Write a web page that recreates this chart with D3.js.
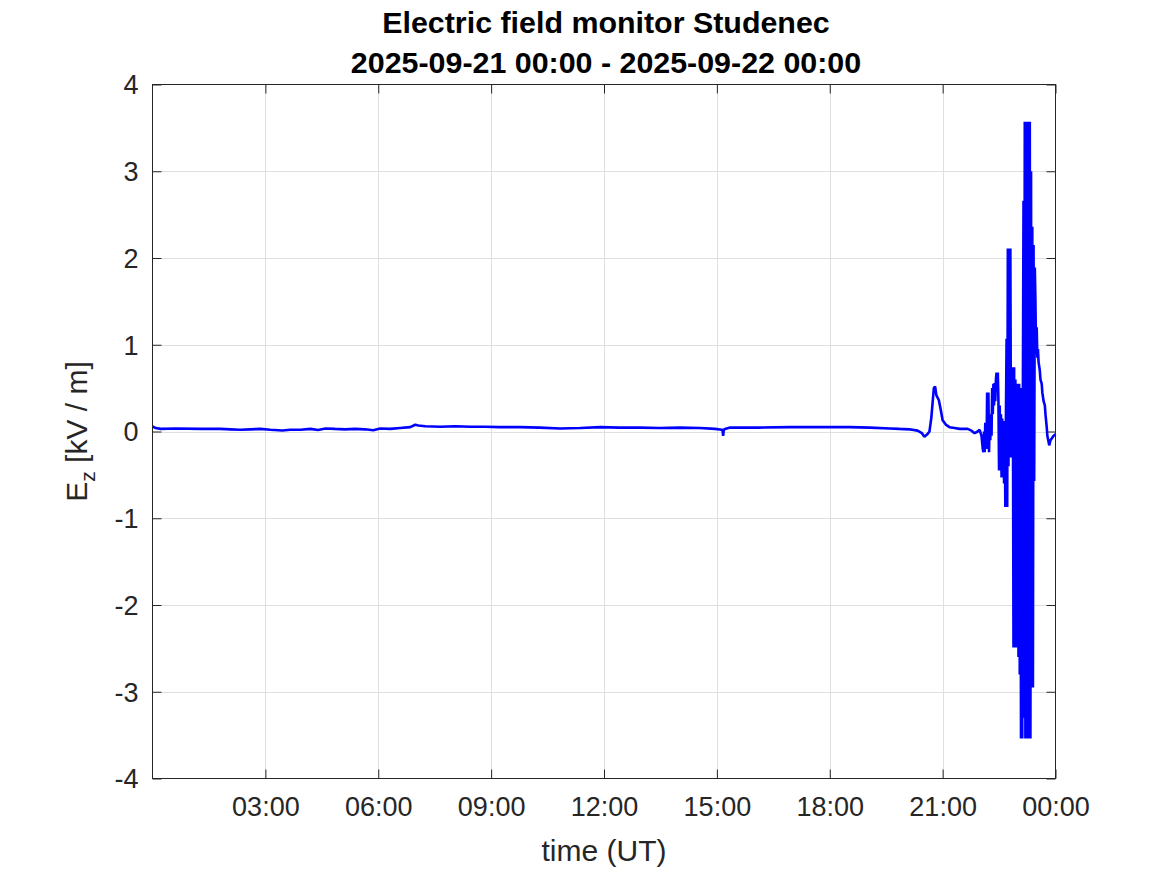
<!DOCTYPE html>
<html><head><meta charset="utf-8">
<script src="https://cdn.jsdelivr.net/npm/d3@7"></script>
<style>
body{margin:0;background:#fff}
text{font-family:"Liberation Sans",Arial,Helvetica,sans-serif;fill:#262626}
</style>
</head><body>
<svg id="chart" width="1167" height="875"></svg>
<script>
// ---- data ----
const titleLines = ["Electric field monitor Studenec", "2025-09-21 00:00 - 2025-09-22 00:00"];
const xLabel = "time (UT)";
const xTickMinutes = [180, 360, 540, 720, 900, 1080, 1260, 1440];
const xTickLabels = ["03:00", "06:00", "09:00", "12:00", "15:00", "18:00", "21:00", "00:00"];
const yTicks = [-4, -3, -2, -1, 0, 1, 2, 3, 4];
const yTickLabels = ["-4", "-3", "-2", "-1", "0", "1", "2", "3", "4"];

// minutes since 2025-09-21 00:00 UT
const minutes = [
  0,5,13,37,76,108,124,140,156,172,188,207,220,236,252,264,276,291,307,323,339,352,363,379,395,411,419,424,435,459,483,507,530,554,586,618,650,682,714,745,777,809,841,873,897,908,909,910,911,913,921,968,1016,1064,1112,1144,1176,1191,1207,1220,1227,1231,1236,1239,1242,1246,1248,1250,1254,1257,1260,1265,1271,1279,1287,1300,1306,1311,1316,1319,1322,
  1324,1325,1326,1327,1328,1329,1330,1331,1332,1333,1334,1335,1336,1337,1338,1339,1340,1341,1342,1343,1344,1345,1346,1347,1348,1349,1350,1351,1352,1353,1354,1355,1356,1357,1358,1359,
  1360,1361,1362,1363,1364,1365,1366,1367,1368,1369,1370,1371,1372,1373,1374,1375,1376,1377,1378,1379,1380,1381,1382,1383,1384,1385,1386,1387,1388,1389,
  1390,1391,1392,1393,1394,1395,1396,1397,1398,1399,1400,1401,1402,1403,1404,1405,1406,1407,1408,1409,1410,1411,1412,1413,1415,1416,1418,1419,1421,1423,1424,1426,1427,1429,1430,1432,1434,1437,1440
];
// vertical electric field E_z [kV/m]
const ez = [
  0.06,0.04,0.03,0.035,0.03,0.03,0.025,0.02,0.025,0.03,0.02,0.012,0.02,0.02,0.03,0.018,0.035,0.03,0.025,0.03,0.025,0.015,0.035,0.03,0.04,0.05,0.078,0.07,0.06,0.055,0.06,0.055,0.055,0.05,0.05,0.045,0.035,0.04,0.05,0.045,0.045,0.04,0.045,0.04,0.03,0.02,0.02,-0.05,0.02,0.03,0.045,0.045,0.05,0.05,0.05,0.045,0.035,0.03,0.025,0.01,-0.02,-0.06,-0.03,0.0,0.16,0.5,0.52,0.42,0.36,0.25,0.13,0.08,0.05,0.04,0.03,0.03,0.01,-0.02,0.0,0.02,-0.05,
  -0.2,-0.24,0.0,-0.24,0.1,-0.1,-0.2,0.45,-0.05,0.45,-0.24,0.2,-0.1,0.19,-0.05,0.5,0.2,0.55,0.3,0.56,0.35,0.6,0.68,0.55,0.68,0.35,-0.45,0.3,-0.2,0.2,-0.53,0.15,-0.4,0.1,-0.6,0.12,
  -0.87,0.2,1.07,-0.87,2.11,-0.4,2.11,0.1,2.11,-0.3,0.74,0.1,0.74,-2.49,0.74,-1.8,0.6,-2.49,0.1,-1.8,0.55,-2.6,0.55,-2.8,0.3,-3.54,0.5,-3.54,0.5,2.66,
  -3.3,3.57,-3.54,3.57,-3.54,3.57,-3.3,3.57,-3.54,3.57,-3.54,3.0,-2.95,2.36,-2.95,2.15,-0.57,1.89,1.5,0.9,1.2,0.85,0.95,0.8,0.7,0.6,0.55,0.45,0.35,0.3,0.2,0.05,-0.05,-0.12,-0.16,-0.1,-0.08,-0.05,-0.03
];

// ---- layout ----
const svg = d3.select("#chart");
const L = 152.5, R = 1055.5, T = 84.5, B = 778.5;
const x = d3.scaleLinear().domain([0, 1440]).range([L, R]);
const y = d3.scaleLinear().domain([-4, 4]).range([B, T]);
const axisColor = "#262626";
const gridColor = "#dfdfdf";
const tickLen = 9;

svg.append("rect").attr("width", 1167).attr("height", 875).attr("fill", "#fff");

// grid
const grid = svg.append("g");
grid.selectAll(".gx").data(xTickMinutes.filter(m => m < 1440)).enter().append("line")
  .attr("x1", d => Math.round(x(d)) + 0.5).attr("x2", d => Math.round(x(d)) + 0.5)
  .attr("y1", T).attr("y2", B).attr("stroke", gridColor).attr("stroke-width", 1);
grid.selectAll(".gy").data(yTicks.filter(v => v > -4 && v < 4)).enter().append("line")
  .attr("y1", d => Math.round(y(d)) + 0.5).attr("y2", d => Math.round(y(d)) + 0.5)
  .attr("x1", L).attr("x2", R).attr("stroke", gridColor).attr("stroke-width", 1);

// data line
const line = d3.line().x((d, i) => x(minutes[i])).y(d => y(d));
svg.append("path").attr("d", line(ez))
  .attr("fill", "none").attr("stroke", "#0000ff").attr("stroke-width", 2.6)
  .attr("stroke-linejoin", "bevel");

// axes via d3 axis generators (ticks inward)
const xb = d3.axisBottom(x).tickValues(xTickMinutes).tickSize(-tickLen).tickPadding(18)
  .tickFormat((d, i) => xTickLabels[i]);
const gxb = svg.append("g").attr("transform", `translate(0,${B})`).call(xb);
const xt = d3.axisTop(x).tickValues(xTickMinutes).tickSize(-tickLen).tickFormat("");
const gxt = svg.append("g").attr("transform", `translate(0,${T})`).call(xt);
const yl = d3.axisLeft(y).tickValues(yTicks).tickSize(-tickLen).tickPadding(14)
  .tickFormat((d, i) => yTickLabels[i]);
const gyl = svg.append("g").attr("transform", `translate(${L},0)`).call(yl);
const yr = d3.axisRight(y).tickValues(yTicks).tickSize(-tickLen).tickFormat("");
const gyr = svg.append("g").attr("transform", `translate(${R},0)`).call(yr);

[gxb, gxt, gyl, gyr].forEach(g => {
  g.select(".domain").remove();
  g.selectAll(".tick line").attr("stroke", axisColor).attr("stroke-width", 1);
  g.selectAll(".tick text").attr("fill", axisColor).style("font-size", "27px")
    .style("font-family", '"Liberation Sans", Arial, sans-serif');
});
gxb.selectAll(".tick text").attr("dy", "0.71em");
gyl.selectAll(".tick text").attr("dy", "0.35em");

// box
svg.append("rect").attr("x", L).attr("y", T).attr("width", R - L).attr("height", B - T)
  .attr("fill", "none").attr("stroke", axisColor).attr("stroke-width", 1);

// labels
svg.append("text").attr("x", (L + R) / 2).attr("y", 861).attr("text-anchor", "middle")
  .style("font-size", "30px").text(xLabel);

const yt = svg.append("text").attr("transform", `translate(87,${(T + B) / 2}) rotate(-90)`)
  .attr("text-anchor", "middle").style("font-size", "30px");
yt.append("tspan").text("E");
yt.append("tspan").attr("dy", 8).style("font-size", "21px").text("z");
yt.append("tspan").attr("dy", -8).text(" [kV / m]");

titleLines.forEach((t, i) => {
  svg.append("text").attr("x", (L + R) / 2 + 2).attr("y", 33 + i * 40).attr("text-anchor", "middle")
    .style("font-size", "30.4px").style("font-weight", "bold").style("fill", "#000").text(t);
});
</script>
</body></html>
